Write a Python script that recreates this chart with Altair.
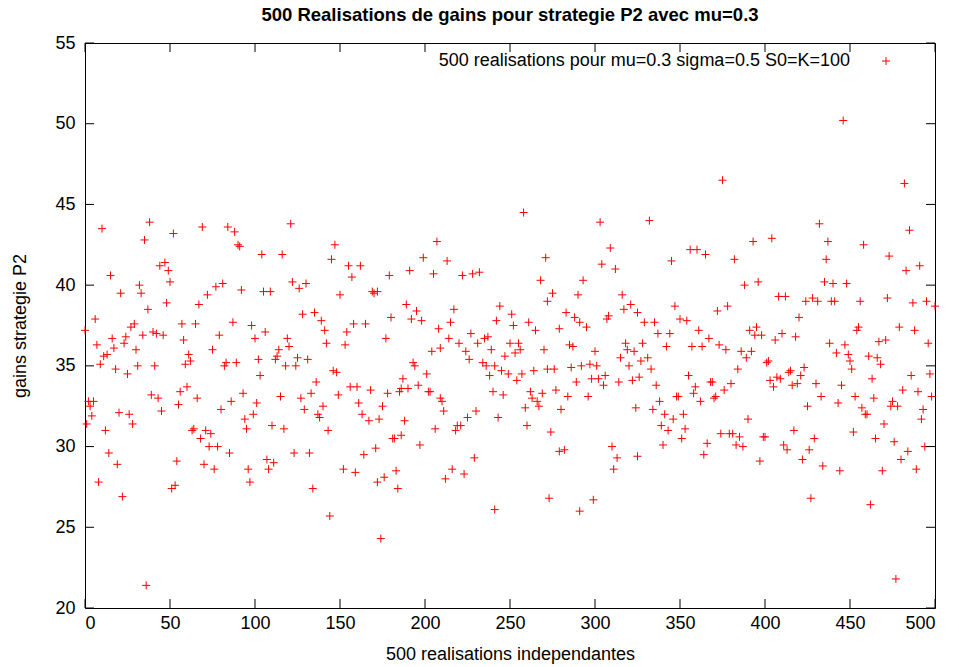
import altair as alt
import pandas as pd

# realisation index and gain
realisation = [
    0, 10, 38, 35, 47, 44, 49, 50, 15, 32, 21, 33, 37, 48, 6, 7, 16, 17, 24, 23, 27, 29, 34, 40, 42, 46, 30, 11, 13, 9,
    18, 25, 31, 41, 2, 5, 3, 4, 1, 39, 43, 45, 20, 26, 28, 12, 14, 19, 8, 22, 36,
    52, 69, 84, 88, 90, 91, 67, 72, 77, 81, 92, 57, 65, 87, 98, 100, 58, 79, 75, 61, 62, 59, 83, 82, 89, 56, 60, 55,
    66, 80, 86, 93, 99, 94, 95, 64, 63, 71, 74, 68, 73, 78, 85, 54, 70, 76, 96, 97, 53, 51,
    121, 104, 116, 147, 145, 122, 126, 130, 105, 109, 150, 128, 135, 139, 141, 106, 119, 120, 114, 113, 112, 125, 131,
    118, 124, 142, 102, 103, 146, 148, 136, 133, 149, 101, 115, 127, 129, 140, 137, 138, 143, 110, 117, 123, 132, 107,
    111, 108, 134, 144,
    199, 155, 162, 157, 179, 191, 169, 170, 172, 189, 195, 180, 192, 198, 154, 158, 165, 177, 153, 193, 194, 187, 186,
    190, 196, 156, 160, 168, 178, 185, 161, 175, 163, 167, 173, 188, 181, 182, 186, 197, 164, 171, 152, 159, 172, 176,
    183, 184, 174,
    207, 213, 205, 222, 228, 232, 217, 215, 208, 244, 242, 204, 209, 214, 220, 227, 231, 235, 237, 224, 226, 239, 250,
    247, 234, 236, 241, 238, 245, 249, 201, 202, 203, 209, 210, 211, 230, 225, 240, 246, 206, 218, 219, 221, 243, 229,
    216, 223, 212, 241,
    258, 271, 268, 275, 272, 293, 290, 283, 251, 252, 261, 265, 279, 288, 291, 295, 255, 256, 253, 270, 285, 287, 300,
    254, 257, 264, 272, 276, 286, 292, 297, 301, 298, 289, 277, 269, 262, 263, 266, 259, 267, 280, 284, 296, 260, 274,
    279, 282, 273, 299, 291,
    303, 332, 309, 304, 312, 345, 316, 317, 321, 307, 308, 325, 329, 335, 347, 350, 337, 344, 328, 342, 318, 319, 323,
    315, 327, 331, 320, 333, 326, 322, 314, 306, 302, 305, 336, 338, 334, 324, 341, 339, 343, 346, 348, 349, 351, 340,
    310, 325, 313, 311,
    375, 356, 360, 365, 382, 393, 388, 396, 372, 378, 354, 361, 367, 357, 363, 373, 377, 391, 395, 394, 398, 386, 392,
    389, 384, 355, 359, 358, 362, 368, 369, 371, 370, 376, 380, 352, 353, 390, 374, 379, 381, 385, 383, 387, 366, 364,
    399, 400, 397,
    446, 432, 404, 437, 436, 435, 440, 448, 408, 412, 424, 428, 431, 439, 441, 420, 410, 406, 418, 438, 447, 442, 449,
    450, 401, 402, 403, 405, 407, 409, 414, 415, 416, 419, 421, 423, 430, 445, 433, 425, 443, 417, 429, 411, 413, 426,
    422, 434, 444, 427,
    482, 485, 458, 473, 491, 483, 456, 472, 487, 495, 500, 454, 455, 479, 488, 467, 471, 496, 461, 466, 468, 451, 463,
    486, 497, 453, 464, 481, 490, 498, 475, 474, 478, 457, 459, 460, 493, 492, 470, 452, 465, 476, 494, 484, 480, 469,
    489, 462, 477,
]

gain = [
    37.2, 43.5, 43.9, 42.8, 41.4, 41.2, 40.9, 40.2, 40.6, 40.0, 39.5, 39.5, 38.5, 38.9, 37.9, 36.3, 36.7, 36.1, 36.8,
    36.4, 37.4, 37.6, 36.9, 37.1, 37.0, 36.9, 36.0, 35.6, 35.7, 35.1, 34.8, 34.5, 35.0, 35.0, 32.8, 32.8, 32.5, 31.9,
    31.4, 33.2, 33.0, 32.2, 32.1, 32.0, 31.4, 31.0, 29.6, 28.9, 27.8, 26.9, 21.4,
    43.2, 43.6, 43.6, 43.3, 42.5, 42.4, 38.8, 39.4, 39.9, 40.1, 39.7, 37.6, 37.6, 37.7, 37.5, 36.7, 36.6, 36.9, 36.0,
    35.7, 35.3, 35.1, 35.2, 35.0, 35.2, 33.4, 33.7, 32.6, 33.0, 32.3, 32.8, 33.3, 32.0, 31.7, 31.1, 31.1, 31.0, 31.0,
    30.8, 30.5, 30.0, 30.0, 29.6, 29.1, 28.9, 28.6, 28.6, 27.8, 27.6, 27.4,
    43.8, 41.9, 41.9, 42.5, 41.6, 40.2, 39.8, 40.1, 39.6, 39.6, 39.4, 38.2, 38.3, 37.8, 37.2, 37.1, 36.7, 36.2, 36.0,
    35.6, 35.4, 35.5, 35.4, 35.0, 35.0, 36.4, 35.4, 34.4, 34.7, 34.6, 34.0, 33.3, 33.2, 32.7, 33.1, 33.0, 32.3, 32.5,
    32.0, 31.8, 31.0, 31.3, 31.1, 29.6, 29.6, 29.2, 29.0, 28.6, 27.4, 25.7,
    41.7, 41.2, 41.2, 40.5, 40.6, 40.9, 39.6, 39.5, 39.6, 38.8, 38.4, 38.0, 37.9, 37.8, 37.1, 37.6, 37.6, 36.7, 36.3,
    35.2, 35.0, 34.2, 33.6, 33.6, 33.8, 33.7, 33.7, 33.5, 33.3, 33.4, 32.7, 32.5, 32.0, 31.6, 31.7, 31.6, 30.5, 30.5,
    30.7, 30.1, 29.5, 29.9, 28.6, 28.4, 27.8, 28.1, 28.5, 27.4, 24.3,
    42.7, 41.5, 40.7, 40.6, 40.7, 40.8, 38.5, 37.7, 37.3, 38.7, 37.8, 35.9, 36.1, 36.7, 36.4, 37.0, 36.4, 36.7, 36.8,
    35.9, 35.4, 36.0, 36.4, 35.6, 35.2, 35.0, 35.0, 34.4, 34.7, 34.5, 34.5, 33.4, 33.4, 33.0, 32.8, 32.2, 32.2, 31.8,
    33.4, 33.2, 31.1, 31.0, 31.3, 31.3, 31.8, 29.3, 28.6, 28.3, 28.0, 26.1,
    44.5, 41.7, 40.3, 39.5, 39.0, 40.3, 39.4, 38.3, 38.2, 37.5, 37.7, 37.2, 37.3, 38.0, 37.7, 37.4, 36.4, 36.0, 35.8,
    36.0, 36.3, 36.2, 35.9, 34.1, 34.5, 34.7, 34.8, 34.8, 34.9, 35.0, 35.1, 35.0, 34.2, 34.0, 33.5, 33.3, 33.4, 33.0,
    32.8, 32.4, 32.5, 32.3, 33.1, 33.1, 31.3, 30.9, 29.7, 29.8, 26.8, 26.7, 26.0,
    43.9, 44.0, 42.3, 41.3, 41.0, 41.5, 39.4, 38.5, 38.8, 37.9, 38.1, 38.3, 37.7, 37.7, 38.7, 37.9, 37.0, 37.0, 36.4,
    36.2, 36.4, 36.0, 35.9, 35.5, 35.3, 35.5, 35.0, 34.8, 34.3, 34.1, 34.0, 34.4, 34.2, 33.8, 33.8, 32.8, 32.3, 32.4,
    32.0, 31.3, 31.0, 31.7, 33.1, 33.1, 30.5, 30.1, 30.0, 29.4, 29.3, 28.6,
    46.5, 42.2, 42.2, 41.9, 41.6, 42.7, 40.0, 40.2, 38.4, 38.7, 37.8, 37.2, 36.7, 36.2, 36.2, 36.3, 36.0, 37.2, 37.4,
    36.9, 36.9, 35.9, 35.9, 35.5, 34.8, 34.4, 33.7, 33.3, 32.8, 34.0, 34.0, 33.1, 33.0, 33.5, 33.9, 32.0, 31.1, 31.7,
    30.8, 30.8, 30.8, 30.6, 30.1, 30.0, 30.2, 29.5, 30.6, 30.6, 29.1,
    50.2, 43.8, 42.9, 42.7, 41.6, 40.2, 40.1, 40.1, 39.3, 39.3, 39.0, 39.2, 39.0, 39.0, 39.0, 38.0, 37.0, 36.6, 36.8,
    36.4, 36.3, 35.8, 35.7, 35.3, 35.2, 35.3, 34.1, 33.7, 34.3, 34.2, 34.6, 34.7, 33.8, 33.9, 34.4, 34.9, 33.9, 33.8,
    33.1, 32.5, 32.7, 31.0, 30.5, 30.1, 29.8, 29.8, 29.2, 28.8, 28.5, 26.8,
    46.3, 43.4, 42.5, 41.8, 41.2, 40.9, 39.0, 39.2, 38.9, 39.0, 38.7, 37.2, 37.4, 37.4, 37.2, 36.5, 36.6, 36.4, 35.6,
    35.5, 35.1, 34.8, 34.2, 34.4, 34.5, 33.1, 33.0, 33.5, 33.4, 33.1, 32.8, 32.5, 32.5, 32.4, 32.0, 32.0, 32.3, 31.7,
    31.4, 30.9, 30.5, 30.3, 30.0, 29.7, 29.2, 28.5, 28.6, 26.4, 21.8,
]

x_ticks = [0, 50, 100, 150, 200, 250, 300, 350, 400, 450, 500]
y_ticks = [20, 25, 30, 35, 40, 45, 50, 55]

title_text = "500 Realisations de gains pour strategie P2 avec mu=0.3"
legend_text = "500 realisations pour mu=0.3 sigma=0.5 S0=K=100"
x_title = "500 realisations independantes"
y_title = "gains strategie P2"

n = min(len(realisation), len(gain))
df = pd.DataFrame({"x": realisation[:n], "y": gain[:n]})
xt = pd.DataFrame({"x": x_ticks})
yt = pd.DataFrame({"y": y_ticks})
leg = pd.DataFrame({"label": [legend_text]})

FONT = "Liberation Sans"
FS = 18
W, H = 850, 565
RED = "#ff0000"
CROSS = "M-1,0L1,0M0,-1L0,1"

xscale = alt.Scale(domain=[0, 500], nice=False, zero=False)
yscale = alt.Scale(domain=[20, 55], nice=False, zero=False)

x_axis = alt.Axis(
    values=x_ticks, ticks=False, domain=False, grid=False, labelPadding=6,
    labelFontSize=FS, labelFont=FONT, labelColor="black", title=x_title,
    titleFont=FONT, titleFontSize=FS, titleFontWeight="normal", titleColor="black",
    titlePadding=13)
y_axis = alt.Axis(
    values=y_ticks, ticks=False, domain=False, grid=False, labelPadding=10,
    labelFontSize=FS, labelFont=FONT, labelColor="black", title=y_title,
    titleFont=FONT, titleFontSize=FS, titleFontWeight="normal", titleColor="black",
    titlePadding=25)

points = alt.Chart(df).mark_point(
    shape=CROSS, filled=False, color=RED, strokeWidth=1, size=64, opacity=1
).encode(
    x=alt.X("x:Q", scale=xscale, axis=x_axis),
    y=alt.Y("y:Q", scale=yscale, axis=y_axis),
)

tick_bottom = alt.Chart(xt).mark_rule(color="black", strokeWidth=1).encode(
    x=alt.X("x:Q", scale=xscale, axis=x_axis), y=alt.value(H), y2=alt.value(H - 9))
tick_top = alt.Chart(xt).mark_rule(color="black", strokeWidth=1).encode(
    x=alt.X("x:Q", scale=xscale, axis=x_axis), y=alt.value(0), y2=alt.value(9))
tick_left = alt.Chart(yt).mark_rule(color="black", strokeWidth=1).encode(
    y=alt.Y("y:Q", scale=yscale, axis=y_axis), x=alt.value(0), x2=alt.value(9))
tick_right = alt.Chart(yt).mark_rule(color="black", strokeWidth=1).encode(
    y=alt.Y("y:Q", scale=yscale, axis=y_axis), x=alt.value(W), x2=alt.value(W - 9))

legend_label = alt.Chart(leg).mark_text(
    align="right", baseline="middle", font=FONT, fontSize=FS, color="black"
).encode(text="label:N", x=alt.value(765), y=alt.value(18))
legend_symbol = alt.Chart(leg).mark_point(
    shape=CROSS, filled=False, color=RED, strokeWidth=1, size=64, opacity=1
).encode(x=alt.value(801), y=alt.value(18))

chart = alt.layer(
    points, tick_bottom, tick_top, tick_left, tick_right, legend_label, legend_symbol
).properties(
    width=W, height=H,
    title=alt.TitleParams(title_text, font=FONT, fontSize=18.5, fontWeight="bold",
                          color="black", anchor="middle", offset=10),
    autosize=alt.AutoSizeParams(type="none"),
    padding={"left": 85, "top": 43, "right": 24, "bottom": 59},
    background="white",
).configure_view(stroke="black", strokeWidth=1)

chart.save("out.html", embed_options={"renderer": "svg", "actions": False})
